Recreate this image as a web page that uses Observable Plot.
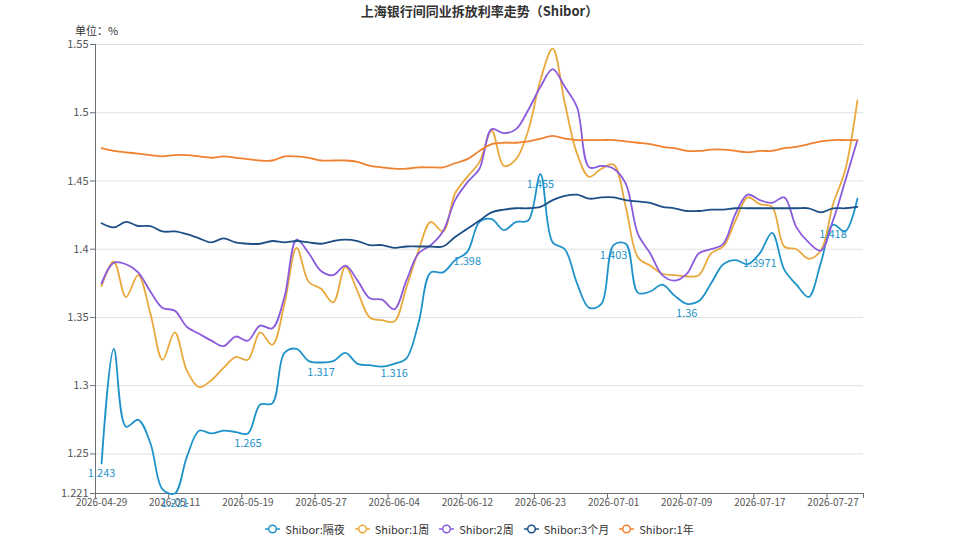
<!DOCTYPE html>
<html><head><meta charset="utf-8">
<script src="https://cdn.jsdelivr.net/npm/d3@7"></script>
<script src="https://cdn.jsdelivr.net/npm/@observablehq/plot@0.6"></script>
<style>
html,body{margin:0;padding:0;overflow:hidden;background:#fff;}
body{font-family:"Noto Sans CJK SC","Liberation Sans",sans-serif;width:959px;height:539px;}
#title{height:22px;line-height:22px;text-align:center;font-size:13px;font-weight:bold;color:#333;}
#legend{display:flex;justify-content:center;align-items:center;height:22px;margin-top:4px;font-size:11px;color:#333;}
.item{display:flex;align-items:center;margin:0 5px;}
.item svg{margin-right:5px;}
</style></head>
<body>
<div id="title">上海银行间同业拆放利率走势（Shibor）</div>
<div id="chart"></div>
<div id="legend"></div>
<script>
const dates = ["2026-04-29","2026-04-30","2026-05-06","2026-05-07","2026-05-08","2026-05-09",
"2026-05-11","2026-05-12","2026-05-13","2026-05-14","2026-05-15","2026-05-18",
"2026-05-19","2026-05-20","2026-05-21","2026-05-22","2026-05-25","2026-05-26",
"2026-05-27","2026-05-28","2026-05-29","2026-06-01","2026-06-02","2026-06-03",
"2026-06-04","2026-06-05","2026-06-08","2026-06-09","2026-06-10","2026-06-11",
"2026-06-12","2026-06-15","2026-06-16","2026-06-17","2026-06-18","2026-06-22",
"2026-06-23","2026-06-24","2026-06-25","2026-06-26","2026-06-29","2026-06-30",
"2026-07-01","2026-07-02","2026-07-03","2026-07-06","2026-07-07","2026-07-08",
"2026-07-09","2026-07-10","2026-07-13","2026-07-14","2026-07-15","2026-07-16",
"2026-07-17","2026-07-20","2026-07-21","2026-07-22","2026-07-23","2026-07-24",
"2026-07-27","2026-07-28","2026-07-29"];

const tickDates = ["2026-04-29","2026-05-11","2026-05-19","2026-05-27","2026-06-04","2026-06-12",
"2026-06-23","2026-07-01","2026-07-09","2026-07-17","2026-07-27"];

const overnight = [1.243,1.327,1.270,1.275,1.258,1.224,
1.221,1.248,1.267,1.265,1.267,1.266,
1.265,1.286,1.287,1.324,1.327,1.318,
1.317,1.318,1.324,1.316,1.315,1.314,
1.316,1.320,1.346,1.383,1.383,1.392,
1.398,1.420,1.422,1.414,1.420,1.421,
1.455,1.405,1.400,1.375,1.357,1.360,
1.403,1.404,1.368,1.369,1.374,1.366,
1.360,1.362,1.375,1.389,1.392,1.389,
1.3971,1.412,1.385,1.374,1.365,1.390,
1.418,1.413,1.437];

const week1 = [1.373,1.391,1.365,1.381,1.353,1.319,
1.339,1.311,1.299,1.304,1.313,1.321,
1.319,1.339,1.330,1.360,1.401,1.376,
1.371,1.361,1.387,1.369,1.350,1.348,
1.347,1.372,1.399,1.420,1.413,1.441,
1.453,1.464,1.487,1.461,1.466,1.487,
1.524,1.547,1.507,1.470,1.453,1.459,
1.462,1.431,1.394,1.388,1.382,1.381,
1.380,1.381,1.397,1.402,1.421,1.438,
1.433,1.431,1.402,1.400,1.393,1.399,
1.433,1.458,1.509];

const week2 = [1.375,1.390,1.389,1.383,1.369,1.357,
1.355,1.343,1.338,1.333,1.329,1.336,
1.333,1.344,1.342,1.365,1.407,1.397,
1.384,1.381,1.388,1.377,1.364,1.363,
1.356,1.377,1.397,1.403,1.413,1.436,
1.449,1.459,1.488,1.485,1.488,1.502,
1.519,1.532,1.519,1.504,1.460,1.461,
1.459,1.448,1.411,1.397,1.381,1.377,
1.382,1.397,1.400,1.404,1.426,1.440,
1.436,1.434,1.438,1.416,1.405,1.399,
1.421,1.450,1.480];

const month3 = [1.419,1.416,1.420,1.417,1.417,1.413,
1.413,1.411,1.408,1.405,1.408,1.405,
1.404,1.404,1.406,1.405,1.406,1.405,
1.404,1.406,1.407,1.406,1.403,1.403,
1.401,1.402,1.402,1.402,1.402,1.409,
1.415,1.421,1.427,1.429,1.430,1.430,
1.431,1.436,1.439,1.440,1.437,1.438,
1.438,1.436,1.435,1.434,1.431,1.430,
1.428,1.428,1.429,1.429,1.430,1.430,
1.430,1.430,1.430,1.430,1.430,1.427,
1.430,1.430,1.431];

const year1 = [1.474,1.472,1.471,1.470,1.469,1.468,
1.469,1.469,1.468,1.467,1.468,1.467,
1.466,1.465,1.465,1.468,1.468,1.467,
1.465,1.465,1.465,1.464,1.461,1.460,
1.459,1.459,1.460,1.460,1.460,1.463,
1.466,1.472,1.477,1.478,1.478,1.479,
1.481,1.483,1.481,1.480,1.480,1.480,
1.480,1.479,1.478,1.477,1.475,1.474,
1.472,1.472,1.473,1.473,1.472,1.471,
1.472,1.472,1.474,1.475,1.477,1.479,
1.480,1.480,1.480];

const seriesNames = ["Shibor:隔夜","Shibor:1周","Shibor:2周","Shibor:3个月","Shibor:1年"];
const seriesColors = ["#1f93c9","#e9a93c","#8a5bdd","#1d4f86","#f0812f"];
const seriesValues = [overnight, week1, week2, month3, year1];

const yTicks = [1.221,1.25,1.3,1.35,1.4,1.45,1.5,1.55];
const gridTicks = [1.25,1.3,1.35,1.4,1.45,1.5,1.55];

// category axis (boundaryGap): each date occupies one band; index i sits at the band centre
const rows = [];
seriesValues.forEach((vals, s) => vals.forEach((v, i) => rows.push({i, date: dates[i], series: seriesNames[s], value: v})));
const tickIdx = tickDates.map(d => dates.indexOf(d));
const labelRows = tickIdx.map(i => ({i, value: overnight[i]}));
const n = dates.length;

const plot = Plot.plot({
  width: 959, height: 492,
  marginLeft: 95, marginRight: 96, marginTop: 22, marginBottom: 21,
  style: {fontFamily: '"Noto Sans CJK SC","Liberation Sans",sans-serif', background: "#fff"},
  x: {type: "linear", domain: [-0.5, n - 0.5], axis: null},
  y: {domain: [1.221, 1.55], axis: null},
  color: {domain: seriesNames, range: seriesColors},
  marks: [
    Plot.gridY(gridTicks, {stroke: "#e0e0e0", strokeOpacity: 1}),
    Plot.ruleY([1.221], {stroke: "#6e7079", strokeWidth: 1}),
    Plot.ruleX([-0.5], {stroke: "#6e7079", strokeWidth: 1}),
    Plot.axisY({ticks: yTicks, tickSize: 5, tickPadding: 2, fontSize: 11, fill: "#555", stroke: "#6e7079", tickFormat: d => String(d), label: null}),
    Plot.axisX({ticks: [...tickIdx.map(i => i - 0.5), n - 0.5], tickSize: 5, stroke: "#6e7079", tickFormat: () => "", label: null}),
    Plot.axisX({ticks: tickIdx, tickSize: 0, tickPadding: 5, fontSize: 10, fill: "#555", tickFormat: i => dates[i], label: null}),
    Plot.line(rows, {x: "i", y: "value", z: "series", stroke: "series", strokeWidth: 1.8, curve: "catmull-rom"}),
    Plot.text(labelRows, {x: "i", y: "value", text: d => String(d.value), dy: 10, fill: seriesColors[0], fontSize: 11}),
    Plot.text(["单位：%"], {frameAnchor: "top-left", text: d => d, dy: -17, dx: 1, textAnchor: "middle", fontSize: 11, fill: "#333"})
  ]
});
plot.style.display = "block";
document.getElementById("chart").appendChild(plot);

const legend = document.getElementById("legend");
seriesNames.forEach((name, i) => {
  const item = document.createElement("div");
  item.className = "item";
  item.innerHTML = `<svg width="15" height="10"><line x1="0" y1="5" x2="15" y2="5" stroke="${seriesColors[i]}" stroke-width="1.5"/><circle cx="7.5" cy="5" r="3.8" fill="#fff" stroke="${seriesColors[i]}" stroke-width="1.5"/></svg><span>${name}</span>`;
  legend.appendChild(item);
});
</script>
</body></html>
